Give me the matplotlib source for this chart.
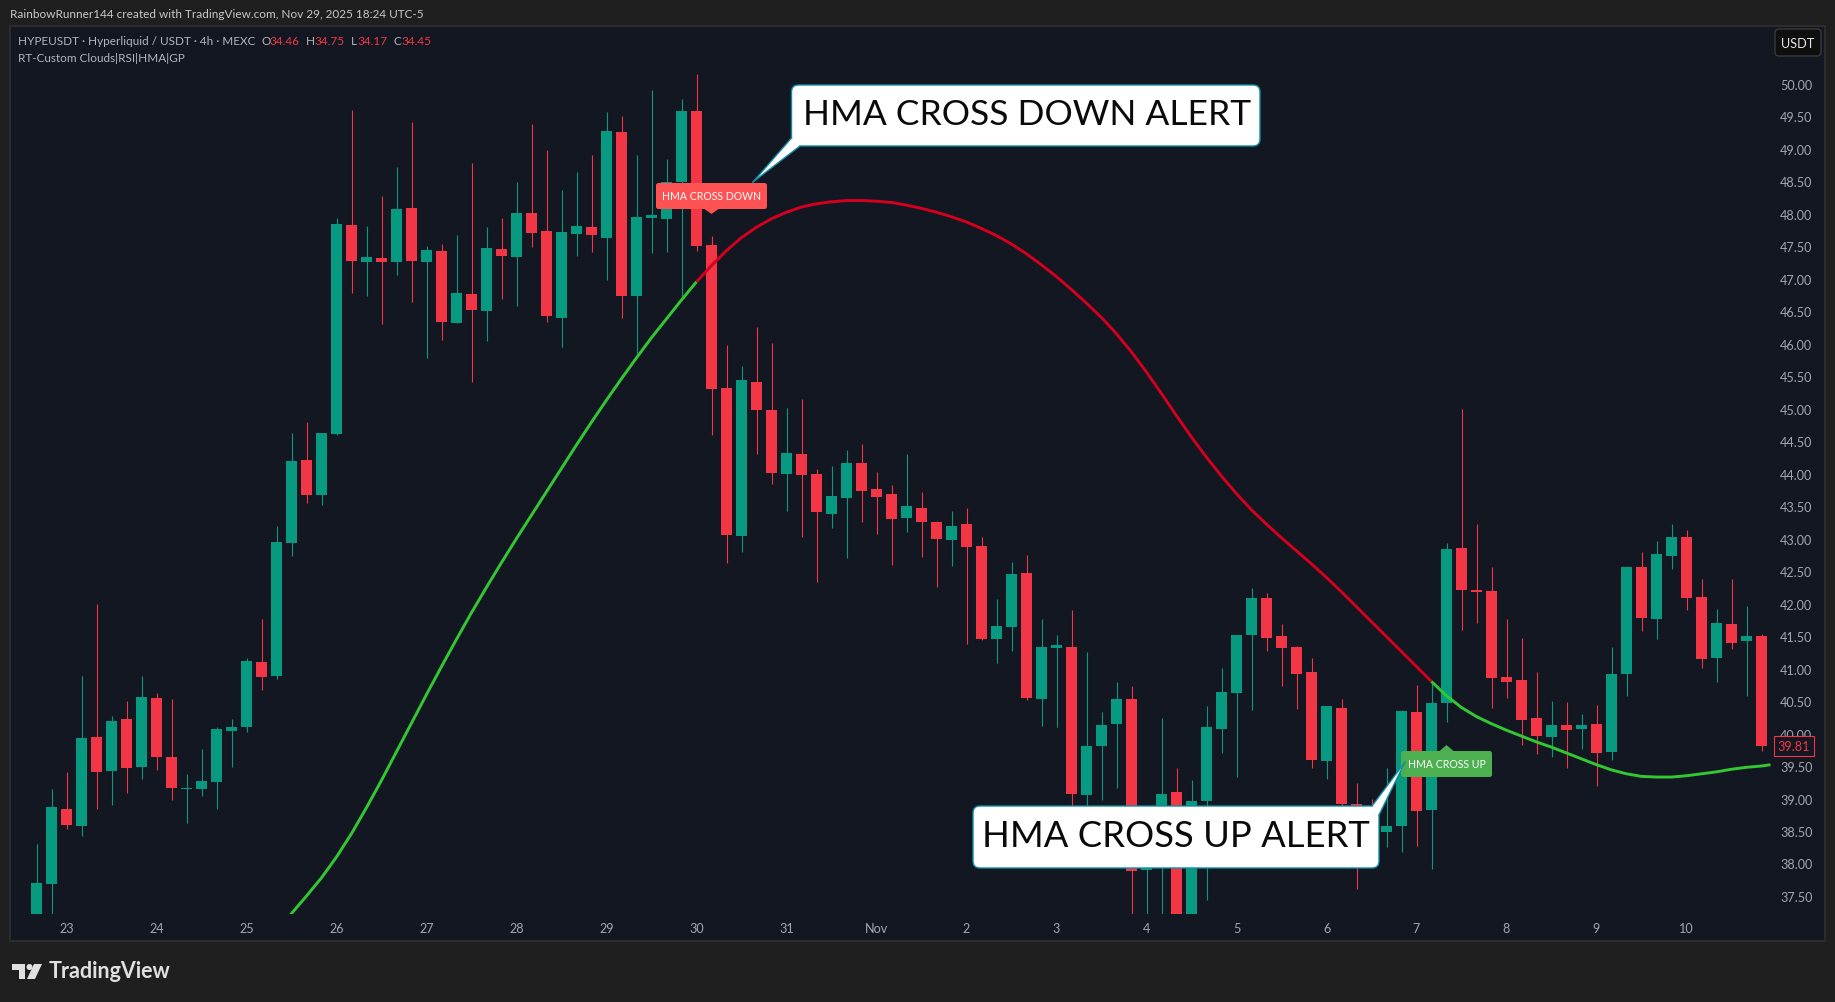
import numpy as np
import matplotlib
matplotlib.use('Agg')
import matplotlib.pyplot as plt
from matplotlib.patches import Rectangle, FancyBboxPatch, Polygon, Circle
from matplotlib.lines import Line2D
from matplotlib.transforms import Affine2D

# 4h candles
opens = [37.00, 37.68, 38.84, 38.58, 39.95, 39.42, 40.22, 39.48, 40.55, 39.64, 39.15, 39.15,
         39.25, 40.04, 40.10, 41.10, 40.88, 42.93, 44.21, 43.67, 44.61, 47.82, 47.25, 47.32,
         47.25, 48.08, 47.25, 47.42, 46.32, 46.76, 46.50, 47.45, 47.33, 48.01, 47.73, 46.39,
         47.68, 47.79, 47.62, 49.25, 46.73, 47.93, 47.92, 48.48, 49.58, 47.52, 45.32, 43.04,
         45.41, 44.98, 44.00, 44.30, 44.00, 43.38, 43.62, 44.16, 43.76, 43.69, 43.32, 43.47,
         43.25, 42.98, 43.22, 42.88, 41.45, 41.64, 42.47, 40.53, 41.31, 41.33, 39.05, 39.81,
         40.15, 40.53, 37.90, 38.07, 39.10, 37.00, 38.96, 40.07, 40.62, 41.52, 42.08, 41.50,
         41.33, 40.95, 39.58, 40.39, 38.92, 38.86, 38.48, 38.58, 40.33, 38.82, 40.47, 42.85,
         42.21, 42.19, 40.87, 40.82, 40.24, 39.95, 40.13, 40.07, 40.15, 39.72, 40.92, 42.56,
         41.76, 42.73, 43.02, 42.10, 41.16, 41.68, 41.42, 41.50]
highs = [38.30, 39.15, 39.41, 40.89, 42.00, 40.27, 40.50, 40.89, 40.62, 40.53, 39.38, 39.76,
         40.10, 40.22, 41.16, 41.76, 43.19, 44.62, 44.79, 44.63, 47.93, 49.59, 47.81, 48.27,
         48.72, 49.41, 47.50, 47.53, 47.67, 48.78, 47.79, 47.93, 48.48, 49.38, 48.98, 48.36,
         48.64, 48.90, 49.56, 49.50, 48.90, 49.90, 48.84, 49.76, 50.15, 47.65, 45.98, 45.65,
         46.25, 46.01, 45.01, 45.15, 44.07, 44.12, 44.36, 44.45, 44.02, 43.82, 44.30, 43.72,
         43.27, 43.42, 43.47, 43.02, 42.07, 42.64, 42.75, 41.76, 41.52, 41.90, 41.25, 40.33,
         40.79, 40.73, 38.84, 40.24, 39.47, 39.28, 40.42, 41.01, 41.52, 42.24, 42.16, 41.68,
         41.34, 41.16, 40.43, 40.53, 39.24, 38.99, 39.47, 40.36, 40.75, 40.79, 42.93, 44.99,
         43.22, 42.56, 41.76, 41.47, 40.95, 40.50, 40.49, 40.30, 40.44, 41.33, 42.58, 42.79,
         42.96, 43.22, 43.13, 42.38, 41.92, 42.38, 41.96, 41.53]
lows = [36.90, 37.00, 38.53, 38.42, 38.84, 38.90, 39.08, 39.30, 39.44, 38.98, 38.62, 39.04,
        38.84, 39.48, 40.02, 40.67, 40.84, 42.73, 43.55, 43.52, 44.60, 46.78, 46.73, 46.30,
        47.05, 46.64, 45.78, 46.05, 46.31, 45.41, 46.04, 46.68, 46.58, 47.48, 46.33, 45.95,
        47.35, 47.41, 46.98, 46.39, 45.85, 47.39, 47.41, 46.73, 47.42, 44.59, 42.62, 42.79,
        44.30, 43.84, 43.43, 43.02, 42.33, 43.16, 42.70, 43.25, 43.07, 42.59, 43.10, 42.72,
        42.25, 42.58, 41.38, 41.44, 41.08, 41.27, 40.52, 40.12, 40.10, 38.86, 38.86, 38.98,
        39.16, 37.20, 37.00, 37.00, 36.90, 36.90, 37.44, 39.70, 39.33, 40.36, 41.27, 40.73,
        40.38, 39.47, 39.30, 38.89, 37.61, 38.73, 38.25, 38.18, 38.27, 37.92, 40.18, 41.59,
        41.70, 40.39, 40.55, 39.82, 39.68, 39.64, 39.47, 39.76, 39.19, 39.59, 40.58, 41.58,
        41.45, 42.53, 41.90, 41.01, 40.79, 41.30, 40.58, 39.73]
closes = [37.70, 38.87, 38.59, 39.93, 39.41, 40.19, 39.47, 40.56, 39.64, 39.16, 39.16, 39.27,
          40.07, 40.10, 41.12, 40.87, 42.95, 44.19, 43.67, 44.62, 47.84, 47.27, 47.33, 47.25,
          48.07, 47.27, 47.44, 46.33, 46.78, 46.51, 47.47, 47.35, 48.01, 47.70, 46.42, 47.72,
          47.81, 47.67, 49.27, 46.73, 47.95, 47.98, 48.48, 49.58, 47.50, 45.30, 43.05, 45.44,
          44.98, 44.01, 44.32, 43.98, 43.41, 43.65, 44.16, 43.73, 43.64, 43.30, 43.50, 43.25,
          43.00, 43.19, 42.87, 41.45, 41.65, 42.45, 40.55, 41.33, 41.36, 39.07, 39.81, 40.13,
          40.53, 37.88, 38.63, 39.07, 37.00, 38.96, 40.10, 40.64, 41.51, 42.08, 41.47, 41.31,
          40.91, 39.59, 40.42, 38.92, 38.79, 38.79, 38.58, 40.35, 38.81, 40.47, 42.84, 42.21,
          42.18, 40.85, 40.79, 40.21, 39.96, 40.13, 40.05, 40.13, 39.70, 40.92, 42.56, 41.78,
          42.76, 43.02, 42.08, 41.15, 41.70, 41.39, 41.50, 39.81]

# HMA by candle index, split where the colour flips
hma_up1_idx = list(range(16, 45))
hma_up1 = [36.97, 37.23, 37.50, 37.78, 38.10, 38.46, 38.86, 39.28, 39.72, 40.16, 40.60, 41.03,
           41.45, 41.86, 42.25, 42.63, 43.00, 43.36, 43.72, 44.08, 44.44, 44.79, 45.13, 45.46,
           45.78, 46.09, 46.38, 46.67, 46.95]
hma_down_idx = list(range(44, 94))
hma_down = [46.95, 47.20, 47.43, 47.63, 47.79, 47.92, 48.02, 48.10, 48.15, 48.18, 48.20, 48.20,
            48.19, 48.17, 48.13, 48.08, 48.02, 47.95, 47.87, 47.77, 47.66, 47.53, 47.38, 47.21,
            47.03, 46.83, 46.62, 46.40, 46.15, 45.87, 45.56, 45.23, 44.89, 44.56, 44.25, 43.96,
            43.69, 43.44, 43.22, 43.01, 42.81, 42.61, 42.40, 42.18, 41.95, 41.72, 41.49, 41.26,
            41.03, 40.80]
hma_up2_idx = list(range(93, 116)) + [115.6]
hma_up2 = [40.80, 40.58, 40.40, 40.26, 40.15, 40.05, 39.96, 39.87, 39.79, 39.70, 39.61, 39.52,
           39.44, 39.38, 39.34, 39.33, 39.33, 39.35, 39.38, 39.41, 39.45, 39.48, 39.50, 39.52]

day_idx = list(range(2, 111, 6))
day_labels = ['23', '24', '25', '26', '27', '28', '29', '30', '31', 'Nov',
              '2', '3', '4', '5', '6', '7', '8', '9', '10']
price_ticks = np.arange(37.5, 50.5, 0.5)

GREEN = '#089981'
RED = '#f23645'
TEXT = '#a3a6af'
FONT = 'Lato'

W, H = 1835, 1003
fig = plt.figure(figsize=(W / 100, H / 100), dpi=100, facecolor='#1f1f1f')
# pixel coordinates, origin top left
px = Affine2D().scale(1, -1).translate(0, H)

fig.add_artist(Rectangle((10, 27), 1815, 915, transform=px, facecolor='#131722',
                         edgecolor='#2c2c2c', linewidth=1.5, zorder=-5))

ax = fig.add_axes([11 / W, 1 - 915 / H, (1772 - 11) / W, (915 - 28) / H])
ax.patch.set_alpha(0)
for s in ax.spines.values():
    s.set_visible(False)
ax.set_xlim(-1.70, 115.70)
ax.set_ylim(37.223, 50.87)

idx = np.arange(len(opens))
o, h, l, c = map(np.array, (opens, highs, lows, closes))
colors = [GREEN if ci >= oi else RED for oi, ci in zip(opens, closes)]
ax.vlines(idx, l, h, colors=colors, linewidth=0.8, zorder=2)
ax.bar(idx, np.maximum(np.abs(c - o), 0.016), bottom=np.minimum(o, c), width=0.733,
       color=colors, linewidth=0, zorder=3)

ax.plot(hma_up1_idx, hma_up1, color='#32c832', linewidth=2.1, solid_capstyle='butt', zorder=4)
ax.plot(hma_down_idx, hma_down, color='#d5001f', linewidth=2.1, solid_capstyle='butt', zorder=4)
ax.plot(hma_up2_idx, hma_up2, color='#32c832', linewidth=2.1, solid_capstyle='butt', zorder=4)

ax.yaxis.tick_right()
ax.set_yticks(price_ticks, [f'{p:.2f}' for p in price_ticks])
ax.set_xticks(day_idx, day_labels)
ax.tick_params(axis='y', length=0, pad=5.8, labelcolor=TEXT, labelsize=9.1)
ax.tick_params(axis='x', length=0, pad=5.5, labelcolor=TEXT, labelsize=9.1)
for t in ax.get_xticklabels() + ax.get_yticklabels():
    t.set_fontfamily(FONT)

# last price tag
ax.annotate(f'{closes[-1]:.2f}', xy=(1, closes[-1]), xycoords=('axes fraction', 'data'),
            xytext=(15.8, 0), textcoords='offset points', ha='center', va='center',
            color=RED, fontsize=9.1, family=FONT, annotation_clip=False,
            bbox=dict(boxstyle='square,pad=0.33', facecolor='#131722', edgecolor=RED, linewidth=0.8))


def put(x, y, s, color=TEXT, size=8.5, ha='left', weight='normal'):
    fig.text(x, y, s, transform=px, color=color, fontsize=size, ha=ha, va='center',
             family=FONT, fontweight=weight, zorder=6)


put(10, 15, 'RainbowRunner144 created with TradingView.com, Nov 29, 2025 18:24 UTC-5', color='#c9c9c9')
put(18, 42, 'HYPEUSDT · Hyperliquid / USDT · 4h · MEXC', color='#b2b5be')
put(18, 59, 'RT-Custom Clouds|RSI|HMA|GP', color='#b2b5be')
for lx, ly, vx, v in [(261, 'O', 269, '34.46'), (306, 'H', 314, '34.75'),
                      (351, 'L', 357, '34.17'), (393, 'C', 401, '34.45')]:
    put(lx, 42, ly, color='#b2b5be')
    put(vx, 42, v, color=RED)

fig.add_artist(FancyBboxPatch((1775, 30), 46, 27, boxstyle='round,pad=0,rounding_size=4', transform=px,
                              facecolor='#0f0f0f', edgecolor='#3a3a3a', linewidth=1, zorder=5))
put(1798, 44, 'USDT', color='#e6e6e6', size=9.1, ha='center')


def tag(x0, y0, x1, y1, tip, text, color):
    tx, ty = tip
    base = y1 if ty > y1 else y0
    fig.add_artist(Polygon([(tx - 7, base), (tx + 7, base), (tx, ty)], transform=px, facecolor=color,
                           edgecolor='none', zorder=7))
    fig.add_artist(FancyBboxPatch((x0, y0), x1 - x0, y1 - y0, boxstyle='round,pad=0,rounding_size=2.5',
                                  transform=px, facecolor=color, edgecolor='none', zorder=7))
    fig.text((x0 + x1) / 2, (y0 + y1) / 2, text, transform=px, color='white', fontsize=7.6,
             ha='center', va='center', family=FONT, zorder=8)


def callout(x0, y0, x1, y1, tail, text, tx, size):
    edge = '#0e8ea3'
    fig.add_artist(FancyBboxPatch((x0, y0), x1 - x0, y1 - y0, boxstyle='round,pad=0,rounding_size=7',
                                  transform=px, facecolor='white', edgecolor=edge, linewidth=1, zorder=9))
    fig.add_artist(Polygon(tail, transform=px, facecolor='white', edgecolor='none', zorder=10))
    for a, b in [(tail[0], tail[2]), (tail[1], tail[2])]:
        fig.add_artist(Line2D([a[0], b[0]], [a[1], b[1]], transform=px, color=edge, linewidth=1, zorder=10))
    fig.text(tx, (y0 + y1) / 2 - 1, text, transform=px, color='#0a0a0a', fontsize=size, ha='center',
             va='center', family=FONT, zorder=11)


callout(791.5, 86, 1260, 147, [(791.5, 139), (800, 147), (753, 183)], 'HMA CROSS DOWN ALERT', 1027, 25.5)
callout(973, 807, 1379, 869, [(1372, 807), (1379, 816), (1405, 763)], 'HMA CROSS UP ALERT', 1176, 26.2)
tag(656, 184, 767, 210, (711.5, 215), 'HMA CROSS DOWN', '#ff5252')
tag(1401, 752, 1492, 778, (1446.5, 746), 'HMA CROSS UP', '#4caf50')

# TradingView mark
LOGO = '#e0e0e0'
fig.add_artist(Polygon([(12, 965), (25, 965), (25, 980), (18.5, 980), (18.5, 971), (12, 971)],
                       transform=px, facecolor=LOGO, edgecolor='none'))
fig.add_artist(Circle((29.5, 968), 3, transform=px, facecolor=LOGO, edgecolor='none'))
fig.add_artist(Polygon([(34, 965), (42, 965), (35, 980), (27, 980)], transform=px, facecolor=LOGO,
                       edgecolor='none'))
put(49, 972, 'TradingView', color=LOGO, size=15.5, weight='bold')

fig.savefig('out.png', dpi=100, facecolor=fig.get_facecolor())
